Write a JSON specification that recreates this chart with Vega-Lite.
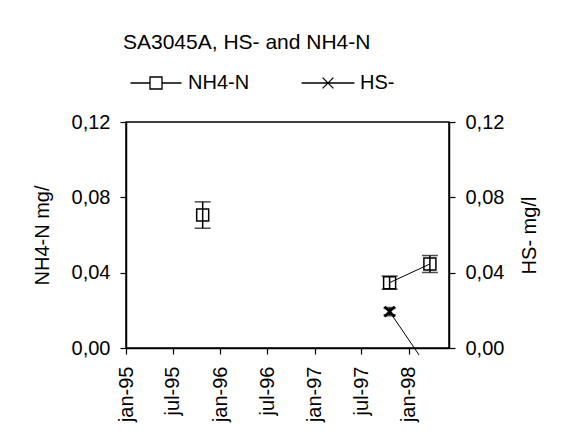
{
  "$schema": "https://vega.github.io/schema/vega-lite/v6.json",
  "width": 323,
  "height": 226,
  "autosize": {"type": "none"},
  "padding": {"left": 126, "top": 122, "right": 112, "bottom": 100},
  "background": "white",
  "config": {
    "font": "Liberation Sans",
    "view": {"stroke": "black", "strokeWidth": 1.5},
    "axis": {
      "domainColor": "black", "domainWidth": 1.5,
      "tickColor": "black", "tickWidth": 1.2, "tickSize": 6,
      "labelColor": "black", "labelFontSize": 20, "labelFont": "Liberation Sans",
      "titleColor": "black", "titleFontSize": 20, "titleFontWeight": "normal", "titleFont": "Liberation Sans",
      "grid": false
    }
  },
  "title": {
    "text": "SA3045A, HS- and NH4-N",
    "anchor": "start",
    "frame": "group",
    "fontSize": 21,
    "fontWeight": "normal",
    "font": "Liberation Sans",
    "color": "black",
    "offset": 20,
    "dx": -3
  },
  "data": {
    "values": [
      {"series": "NH4-N", "date": "1995-10-25T00:00:00", "value": 0.0706, "lo": 0.0636, "hi": 0.0776, "run": "a", "marker": true},
      {"series": "NH4-N", "date": "1997-10-18T00:00:00", "value": 0.0347, "lo": 0.0312, "hi": 0.0382, "run": "b", "marker": true},
      {"series": "NH4-N", "date": "1998-03-23T00:00:00", "value": 0.0446, "lo": 0.0401, "hi": 0.0491, "run": "b", "marker": true},
      {"series": "HS-", "date": "1997-10-18T00:00:00", "value": 0.0193, "lo": 0.0174, "hi": 0.0212, "run": "c", "marker": true},
      {"series": "HS-", "date": "1998-02-09T00:00:00", "value": -0.0037, "lo": null, "hi": null, "run": "c", "marker": false}
    ]
  },
  "encoding": {
    "x": {
      "field": "date",
      "type": "temporal",
      "scale": {"domain": [{"year": 1995, "month": 1, "date": 1}, {"year": 1998, "month": 6, "date": 5}]},
      "axis": {
        "title": null,
        "values": [
          {"year": 1995, "month": 1, "date": 1},
          {"year": 1995, "month": 7, "date": 1},
          {"year": 1996, "month": 1, "date": 1},
          {"year": 1996, "month": 7, "date": 1},
          {"year": 1997, "month": 1, "date": 1},
          {"year": 1997, "month": 7, "date": 1},
          {"year": 1998, "month": 1, "date": 1}
        ],
        "labelExpr": "lower(timeFormat(datum.value, '%b-%y'))",
        "labelAngle": -90,
        "labelPadding": 12
      }
    }
  },
  "layer": [
    {
      "transform": [{"filter": "datum.series === 'NH4-N'"}],
      "encoding": {
        "y": {
          "field": "value",
          "type": "quantitative",
          "scale": {"domain": [0, 0.12], "nice": false, "zero": false},
          "axis": {
            "orient": "left",
            "values": [0, 0.04, 0.08, 0.12],
            "labelExpr": "replace(format(datum.value, '.2f'), '.', ',')",
            "labelPadding": 10,
            "title": "NH4-N mg/",
            "titlePadding": 19
          }
        }
      },
      "layer": [
        {
          "mark": {"type": "line", "color": "black", "strokeWidth": 1},
          "encoding": {"detail": {"field": "run"}}
        },
        {
          "mark": {"type": "rule", "color": "black", "strokeWidth": 1.5},
          "encoding": {"y": {"field": "lo", "type": "quantitative"}, "y2": {"field": "hi"}}
        },
        {
          "mark": {"type": "tick", "orient": "horizontal", "size": 16, "thickness": 1.5, "color": "black"},
          "encoding": {"y": {"field": "lo", "type": "quantitative"}}
        },
        {
          "mark": {"type": "tick", "orient": "horizontal", "size": 16, "thickness": 1.5, "color": "black"},
          "encoding": {"y": {"field": "hi", "type": "quantitative"}}
        },
        {
          "mark": {"type": "point", "shape": "square", "size": 144, "filled": false, "stroke": "black", "strokeWidth": 1.5, "opacity": 1}
        }
      ]
    },
    {
      "transform": [{"filter": "datum.series === 'HS-'"}],
      "encoding": {
        "y": {
          "field": "value",
          "type": "quantitative",
          "scale": {"domain": [0, 0.12], "nice": false, "zero": false},
          "axis": {
            "orient": "right",
            "values": [0, 0.04, 0.08, 0.12],
            "labelExpr": "replace(format(datum.value, '.2f'), '.', ',')",
            "labelPadding": 10,
            "title": "HS- mg/l",
            "titleAngle": 270,
            "titlePadding": 36
          }
        }
      },
      "layer": [
        {
          "mark": {"type": "line", "color": "black", "strokeWidth": 1},
          "encoding": {"detail": {"field": "run"}}
        },
        {
          "transform": [{"filter": "datum.marker"}],
          "mark": {"type": "rule", "color": "black", "strokeWidth": 1.5},
          "encoding": {"y": {"field": "lo", "type": "quantitative"}, "y2": {"field": "hi"}}
        },
        {
          "transform": [{"filter": "datum.marker"}],
          "mark": {"type": "tick", "orient": "horizontal", "size": 12, "thickness": 2.5, "color": "black"},
          "encoding": {"y": {"field": "lo", "type": "quantitative"}}
        },
        {
          "transform": [{"filter": "datum.marker"}],
          "mark": {"type": "tick", "orient": "horizontal", "size": 12, "thickness": 2.5, "color": "black"},
          "encoding": {"y": {"field": "hi", "type": "quantitative"}}
        },
        {
          "transform": [{"filter": "datum.marker"}],
          "mark": {"type": "point", "shape": "M-1,-1L1,1M-1,1L1,-1", "size": 100, "filled": false, "stroke": "black", "strokeWidth": 2.5, "opacity": 1}
        },
        {
          "mark": {"type": "point", "opacity": 0, "filled": false},
          "encoding": {
            "shape": {
              "field": "series",
              "type": "nominal",
              "scale": {
                "domain": ["NH4-N", "HS-"],
                "range": ["M-4.25,0H-1M1,0H4.25M-1,-1H1V1H-1Z", "M-4.4,0H4.4M-0.9,-0.9L0.9,0.9M-0.9,0.9L0.9,-0.9"]
              },
              "legend": {
                "title": null,
                "orient": "none",
                "legendX": 20,
                "legendY": -49,
                "direction": "horizontal",
                "symbolSize": 144,
                "symbolStrokeWidth": 1.3,
                "symbolStrokeColor": "black",
                "symbolFillColor": "transparent",
                "symbolOpacity": 1,
                "labelFontSize": 20,
                "labelFont": "Liberation Sans",
                "labelColor": "black",
                "labelOffset": 22,
                "columnPadding": 48
              }
            }
          }
        }
      ]
    }
  ],
  "resolve": {"scale": {"y": "independent", "shape": "independent"}}
}
